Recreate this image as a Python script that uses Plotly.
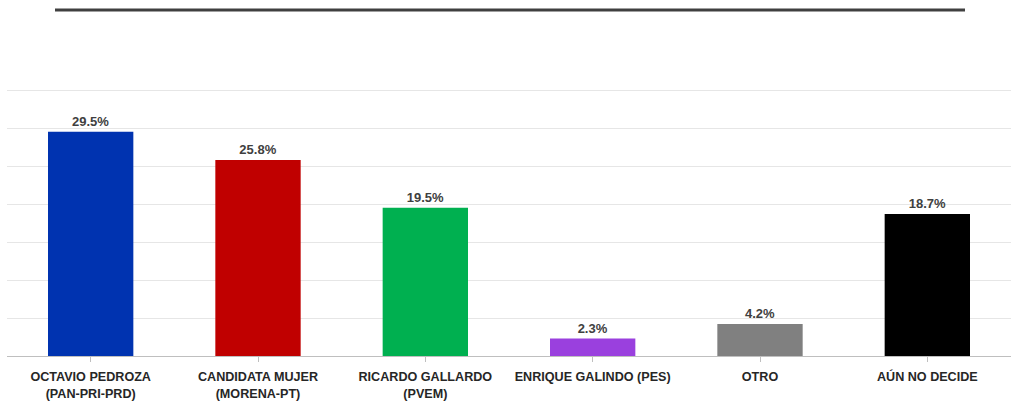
import plotly.graph_objects as go

categories = [
    "OCTAVIO PEDROZA<br>(PAN-PRI-PRD)",
    "CANDIDATA MUJER<br>(MORENA-PT)",
    "RICARDO GALLARDO<br>(PVEM)",
    "ENRIQUE GALINDO (PES)",
    "OTRO",
    "AÚN NO DECIDE",
]
values = [29.5, 25.8, 19.5, 2.3, 4.2, 18.7]
colors = ["#0033B0", "#C00000", "#00B050", "#9A40DE", "#808080", "#000000"]
grid_vals = [5, 10, 15, 20, 25, 30, 35]

tick_text = ["<br>".join(f"<b>{p}</b>" for p in c.split("<br>")) for c in categories]

fig = go.Figure()
fig.add_trace(
    go.Bar(
        x=list(range(len(categories))),
        y=values,
        marker=dict(color=colors, line=dict(width=0)),
        text=[f"<b>{v}%</b>" for v in values],
        textposition="outside",
        textfont=dict(family="Liberation Sans", size=13, color="#404040"),
        cliponaxis=False,
        width=0.51,
    )
)

# horizontal rule above the chart (plot area is 268px tall, rule sits at y=10px)
fig.add_shape(
    type="line",
    xref="paper",
    yref="paper",
    x0=48 / 1004,
    x1=958 / 1004,
    y0=346 / 268,
    y1=346 / 268,
    line=dict(color="#404040", width=3),
)

fig.update_layout(
    width=1011,
    height=402,
    margin=dict(l=7, r=0, t=88, b=46, autoexpand=False),
    plot_bgcolor="white",
    paper_bgcolor="white",
    showlegend=False,
    font=dict(family="Liberation Sans", size=12, color="#262626"),
)

fig.update_xaxes(
    tickmode="array",
    tickvals=list(range(len(categories))),
    ticktext=tick_text,
    range=[-0.5, len(categories) - 0.5],
    tickson="boundaries",
    ticks="outside",
    ticklen=5,
    tickcolor="#BFBFBF",
    ticklabelstandoff=4,
    automargin=False,
    showline=True,
    linecolor="#BFBFBF",
    linewidth=1,
    showgrid=False,
    tickfont=dict(family="Liberation Sans", size=12.6, color="#262626"),
)

fig.update_yaxes(
    range=[0, 35.27],
    tickvals=grid_vals,
    showgrid=True,
    gridcolor="#E6E6E6",
    gridwidth=1,
    zeroline=False,
    showticklabels=False,
    automargin=False,
)

fig.write_html(
    "out.html",
    config={"displayModeBar": False},
    post_script="document.body.style.margin='0';",
)
